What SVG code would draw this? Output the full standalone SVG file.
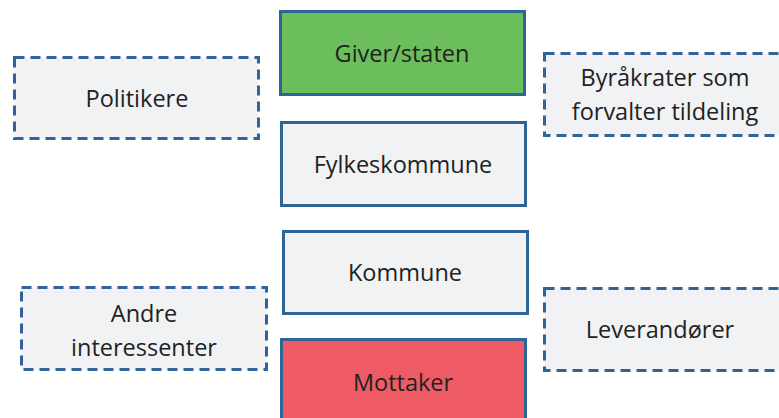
<svg xmlns="http://www.w3.org/2000/svg" width="779" height="418" viewBox="0 0 779 418">
<style>
.box{stroke:#2e6496;stroke-width:3}
.solid{fill:#f1f2f4}
.dash{fill:#f1f2f4;stroke-dasharray:10 6}
.green{fill:#6cbd5b}
.red{fill:#ef5b65}
text{font-family:"Open Sans","Noto Sans",sans-serif;font-size:23.5px;fill:#222;text-anchor:middle}
</style>
<g id="giver"><rect class="box green" x="280.5" y="11.5" width="244" height="83"/><text x="402" y="62">Giver/staten</text></g>
<g id="fylkeskommune"><rect class="box solid" x="281.5" y="122.5" width="244" height="83"/><text x="403" y="173">Fylkeskommune</text></g>
<g id="kommune"><rect class="box solid" x="283.5" y="231.5" width="244" height="82"/><text x="405" y="281">Kommune</text></g>
<g id="mottaker"><rect class="box red" x="281.5" y="339.5" width="244" height="90"/><text x="403" y="391">Mottaker</text></g>
<g id="politikere"><rect class="box dash" x="14.5" y="57.5" width="244" height="81"/><text x="137" y="107">Politikere</text></g>
<g id="byrakrater"><rect class="box dash" x="544.5" y="53.5" width="250" height="82"/><text x="665" y="86">Byråkrater som</text><text x="665" y="120">forvalter tildeling</text></g>
<g id="andre"><rect class="box dash" x="21.5" y="287.5" width="245" height="82"/><text x="144" y="322">Andre</text><text x="144" y="356">interessenter</text></g>
<g id="leverandorer"><rect class="box dash" x="544.5" y="288.5" width="250" height="82"/><text x="660" y="338">Leverandører</text></g>
<g id="connectors"></g>
</svg>
